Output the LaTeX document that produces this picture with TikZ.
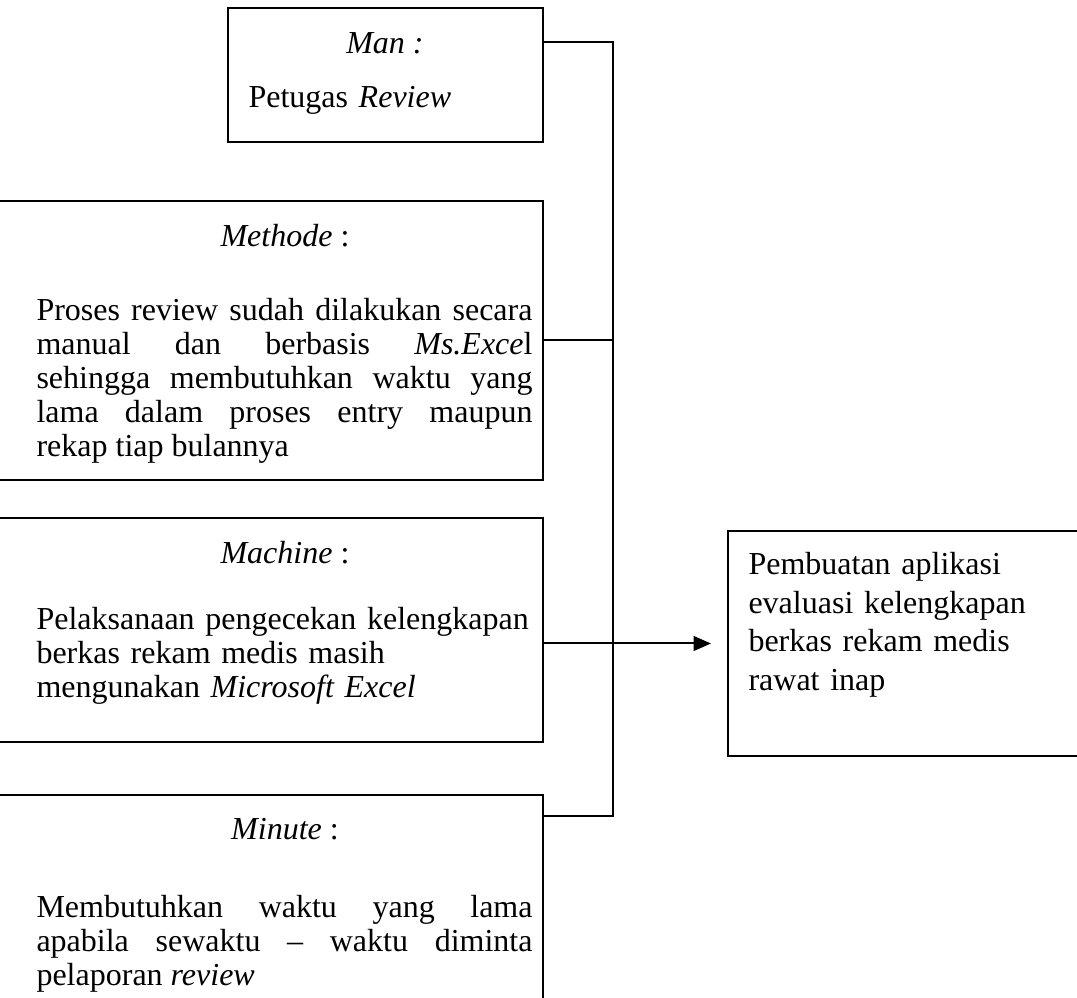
\documentclass[tikz,border=0pt]{standalone}
\usepackage{fontspec}
\setmainfont{Liberation Serif}
\usetikzlibrary{arrows.meta, positioning, calc, fit}
\tikzset{
  box/.style={rectangle, draw=black, line width=0.75pt, inner sep=0pt},
  title/.style={font=\fontsize{12}{12.75}\selectfont, inner sep=0pt, anchor=base},
  body/.style={font=\fontsize{12}{12.75}\selectfont, inner sep=0pt,
    text width=186pt, align=justify, anchor=base west},
  leftbody/.style={body, align=left},
  line/.style={line width=0.75pt, color=black},
  arrow/.style={-{Triangle[length=6.5pt, width=5.5pt]}, line width=0.75pt, color=black}
}

\begin{document}
\begin{tikzpicture}[x=0.375pt, y=-0.375pt]
  \useasboundingbox (0,0) rectangle (1077,998);
  \clip (0,0) rectangle (1077,998);

  % Boxes
  \node[box, fit={(228,8) (543,142)}] (man) {};
  \node[box, fit={(-10,201) (543,480)}] (methode) {};
  \node[box, fit={(-10,518) (543,742)}] (machine) {};
  \node[box, fit={(-10,795) (543,1010)}] (minute) {};
  \node[box, fit={(728,531) (1090,756)}] (result) {};

  % Man
  \node[title] (manT) at (385,54) {\textit{Man :}};
  \node[leftbody, text width=100pt] (manB) at (248,108) {Petugas \textit{Review}};

  % Methode
  \node[title] (methodeT) at (285,247) {\textit{Methode} :};
  \node[body] (methodeB) at (36,321) {Proses review sudah dilakukan secara\linebreak
    manual dan berbasis \textit{Ms.Exce}l\linebreak
    sehingga membutuhkan waktu yang\linebreak
    lama dalam proses entry maupun\linebreak
    rekap tiap bulannya};

  % Machine
  \node[title] (machineT) at (285,564) {\textit{Machine} :};
  \node[leftbody] (machineB) at (36,630) {Pelaksanaan pengecekan kelengkapan\\
    berkas rekam medis masih\\
    mengunakan \textit{Microsoft Excel}};

  % Minute
  \node[title] (minuteT) at (285,840) {\textit{Minute} :};
  \node[body] (minuteB) at (36,918) {Membutuhkan waktu yang lama\linebreak
    apabila sewaktu -- waktu diminta\linebreak
    pelaporan \textit{review}};

  % Result
  \node[leftbody, font=\fontsize{12}{14.4}\selectfont, text width=125pt] (resultB) at (748,575)
    {Pembuatan aplikasi\\evaluasi kelengkapan\\berkas rekam medis\\rawat inap};

  % Connectors
  \coordinate (busTop) at (613,42);
  \coordinate (busBot) at (613,816);
  \draw[line] (man.east |- busTop) -- (busTop) -- (busBot) -- (minute.east |- busBot);
  \draw[line] (methode.east) -- (methode.east -| busTop);
  \draw[arrow, shorten >=6pt] (machine.east |- result.west) -- (result.west);
\end{tikzpicture}
\end{document}
